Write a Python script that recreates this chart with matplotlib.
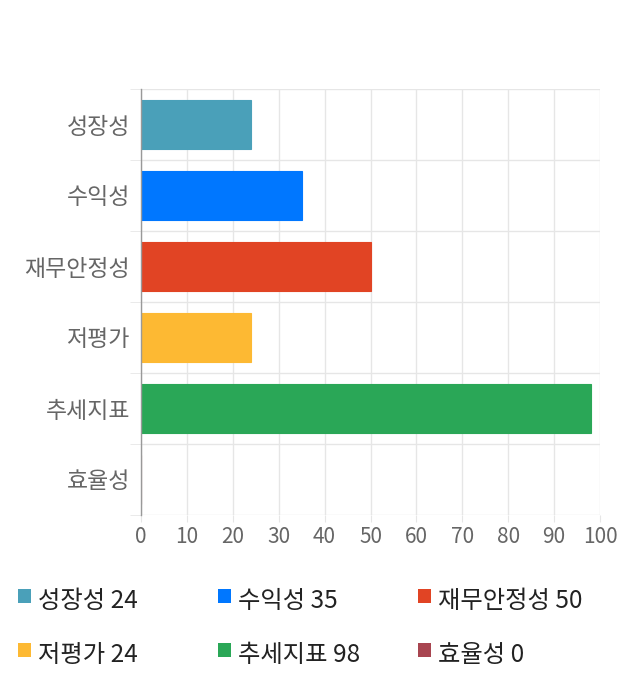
import matplotlib
matplotlib.use("Agg")
import matplotlib.pyplot as plt
from matplotlib.patches import Rectangle

plt.rcParams['font.family'] = ['Noto Sans CJK KR', 'DejaVu Sans']

categories = ["성장성", "수익성", "재무안정성", "저평가", "추세지표", "효율성"]
values = [24, 35, 50, 24, 98, 0]
colors = ["#4aa0b9", "#0077ff", "#e14424", "#fdb933", "#2aa757", "#a84550"]
xticks = [0, 10, 20, 30, 40, 50, 60, 70, 80, 90, 100]

fig = plt.figure(figsize=(6.4, 7.0), dpi=100)
ax = fig.add_axes([141/640, 1-515/700, (600-141)/640, (515-89)/700])

ypos = list(range(len(categories)))
ax.barh(ypos, values, height=0.7, color=colors, edgecolor=colors, linewidth=0.8, zorder=3)
ax.set_ylim(len(categories)-0.5, -0.5)
ax.set_xlim(0, 100)
ax.set_xticks(xticks)
ax.set_xticklabels([str(t) for t in xticks])
ax.set_yticks(ypos)
ax.set_yticklabels(categories)
ax.set_yticks([i-0.5 for i in range(len(categories)+1)], minor=True)

ax.grid(axis='x', color='#e6e6e6', linewidth=1, zorder=0)
ax.grid(axis='y', which='minor', color='#e6e6e6', linewidth=1, zorder=0)
ax.tick_params(axis='y', which='major', length=0, pad=8, labelsize=16.5, labelcolor='#666666')
ax.tick_params(axis='y', which='minor', length=8, color='#e6e6e6')
ax.tick_params(axis='x', length=5, color='#e6e6e6', pad=3, labelsize=15, labelcolor='#666666')
for s in ['top', 'right', 'bottom']:
    ax.spines[s].set_visible(False)
ax.spines['left'].set_color('#999999')
ax.spines['left'].set_linewidth(1)
ax.spines['left'].set_zorder(4)

# legend
col_x = [18, 218, 418]
row_y = [601, 655]
for i, (c, v, col) in enumerate(zip(categories, values, colors)):
    x = col_x[i % 3]
    y = row_y[i // 3]
    fig.patches.append(Rectangle((x/640, 1-(y+2)/700), 13/640, 14/700,
                                 transform=fig.transFigure, facecolor=col, edgecolor='none'))
    fig.text((x+20)/640, 1-y/700, f"{c} {v}", fontsize=17.5, color='#222222',
             va='center', ha='left')

fig.savefig("out.png", dpi=100)
